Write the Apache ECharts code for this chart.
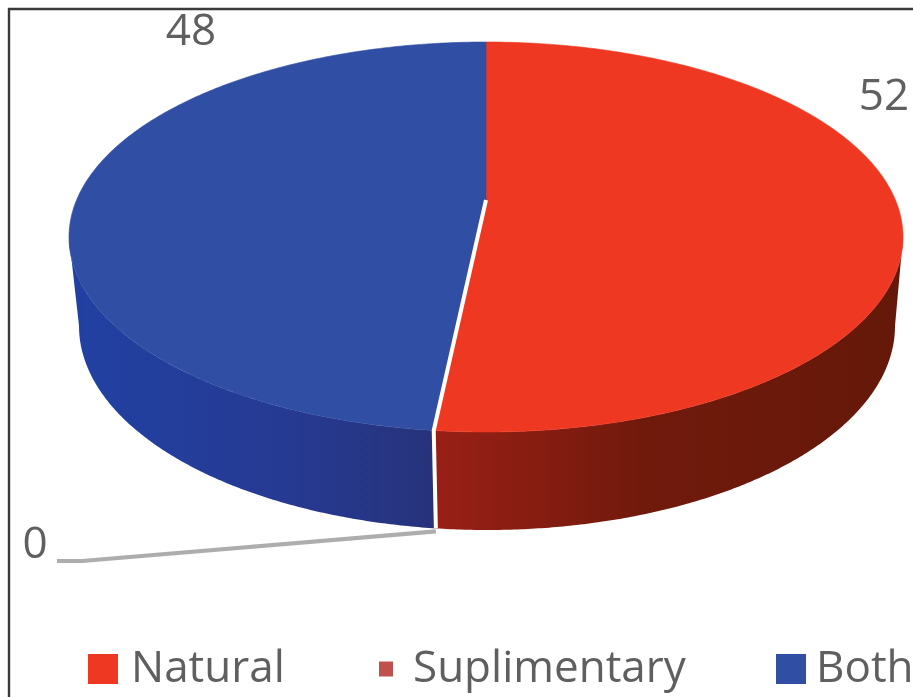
<!DOCTYPE html>
<html><head><meta charset="utf-8">
<style>html,body{margin:0;padding:0;background:#fff;overflow:hidden}#c{width:913px;height:697px;filter:blur(0.55px)}</style>
<script src="https://cdn.jsdelivr.net/npm/echarts@6/dist/echarts.min.js"></script>
</head><body><div id="c"></div>
<script>
const categories = ['Natural', 'Suplimentary', 'Both'];
const values = [52, 0, 48];
const topColors = ['#ee3822', '#c0504d', '#304ea4'];
const sideStops = [
  [[0, '#9a1f16'], [0.45, '#701a0c'], [1, '#651809']],
  [[0, '#c0504d'], [1, '#c0504d']],
  [[0, '#2141a3'], [0.6, '#263a92'], [1, '#27327a']]
];
const labelAt = [[884, 97], [35, 545], [191, 32]];

const TOP = {cx: 486, cy: 237, rx: 417, ry: 195, apexY: 200};
const BOT = {cx: 487, cy: 326, rx: 408, ry: 204};
const TEXT = '#5f5f5f';
const FONT = '44px "Open Sans"';
const total = values.reduce((a, b) => a + b, 0);

function pt(e, deg) {
  const r = deg * Math.PI / 180;
  return [e.cx + e.rx * Math.sin(r), e.cy - e.ry * Math.cos(r)];
}
function arc(e, a, b) {
  const out = [], n = Math.max(2, Math.ceil(Math.abs(b - a) * 2));
  for (let i = 0; i <= n; i++) out.push(pt(e, a + (b - a) * i / n));
  return out;
}
function sliceItem(params, api) {
  const i = params.seriesIndex, v = api.value(0);
  let before = 0;
  for (let k = 0; k < i; k++) before += values[k];
  const a0 = before / total * 360, a1 = (before + v) / total * 360;
  const kids = [];
  if (v > 0) {
    const sa = Math.max(a0, 90), sb = Math.min(a1, 270);
    if (sb > sa) {
      const xs = arc(BOT, sa, sb).map(p => p[0]).concat(arc(TOP, sa, sb).map(p => p[0]));
      const left = Math.min(...xs), right = Math.max(...xs);
      kids.push({
        type: 'polygon',
        shape: {points: arc(TOP, sa, sb).concat(arc(BOT, sb, sa))},
        style: {fill: new echarts.graphic.LinearGradient(left, 0, right, 0,
          sideStops[i].map(s => ({offset: s[0], color: s[1]})), true)}
      });
    }
    kids.push({
      type: 'polygon',
      shape: {points: [[TOP.cx, TOP.apexY]].concat(arc(TOP, a0, a1))},
      style: {fill: topColors[i], stroke: topColors[i], lineWidth: 0.6}
    });
  } else {
    const t = pt(TOP, a0), b = pt(BOT, a0);
    kids.push({type: 'polyline', shape: {points: [[b[0], b[1] + 3], [82, 561], [57, 561]]},
      style: {stroke: '#adadad', lineWidth: 4.2, fill: null, lineJoin: 'round'}});
    kids.push({type: 'polyline', shape: {points: [[TOP.cx, TOP.apexY], t, b]},
      style: {stroke: '#ffffff', lineWidth: 4, fill: null, lineJoin: 'round'}});
  }
  kids.push({type: 'text', style: {text: String(v), x: labelAt[i][0], y: labelAt[i][1],
    font: FONT, fill: TEXT, textAlign: 'center', textVerticalAlign: 'middle'}});
  return {type: 'group', children: kids};
}

const legendBoxes = [
  {left: 88, w: 30, h: 30, gap: 8},
  {left: 379, w: 14, h: 15, gap: 15},
  {left: 776, w: 30, h: 30, gap: 5}
];
const chart = echarts.init(document.getElementById('c'));
chart.setOption({
  animation: false,
  backgroundColor: '#ffffff',
  legend: categories.map((n, i) => ({
    left: legendBoxes[i].left, top: 647,
    itemWidth: legendBoxes[i].w, itemHeight: legendBoxes[i].h,
    selectedMode: false, padding: 0,
    data: [{name: n, icon: 'rect', itemStyle: {color: topColors[i]}}],
    textStyle: {color: TEXT, fontFamily: 'Open Sans', fontSize: 44, padding: [0, 0, 0, legendBoxes[i].gap]}
  })),
  series: categories.map((n, i) => ({
    type: 'custom', name: n, coordinateSystem: 'none', z: i === 1 ? 5 : 2,
    itemStyle: {color: topColors[i]},
    data: [[values[i]]], renderItem: sliceItem, silent: true
  })),
  graphic: [
    {type: 'polyline', z: 10, shape: {points: [[9, 697], [9, 9], [913, 9]]},
      style: {stroke: '#3a3a3a', lineWidth: 2.4, fill: null}}
  ]
});
</script></body></html>
